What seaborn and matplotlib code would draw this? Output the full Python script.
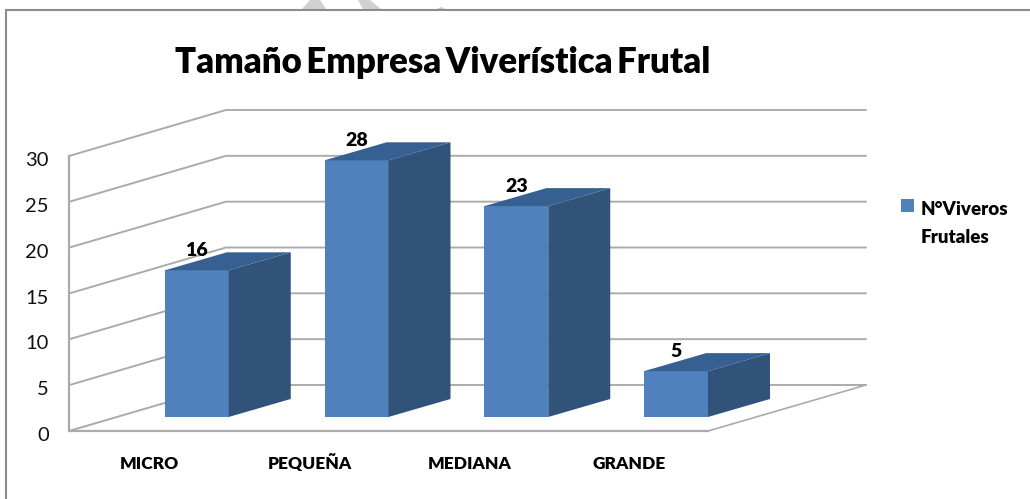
import matplotlib
matplotlib.use('Agg')
import matplotlib.pyplot as plt
import pandas as pd
import seaborn as sns
from matplotlib.lines import Line2D
from matplotlib.patches import Polygon, Rectangle
from matplotlib.transforms import ScaledTranslation

# data
categorias = ['MICRO', 'PEQUEÑA', 'MEDIANA', 'GRANDE']
viveros = [16, 28, 23, 5]
ticks_y = [0, 5, 10, 15, 20, 25, 30]
titulo = 'Tamaño\u2009Empresa\u2009Viverística\u2009Frutal'

df = pd.DataFrame({'tamano': categorias, 'viveros': viveros})

W, H = 1030, 499
azul = '#4F81BD'
azul_top = '#376092'
azul_lado = '#325379'
gris = '#ABABAB'

sns.set_theme(style='white')
plt.rcParams['font.family'] = ['Lato', 'DejaVu Sans']

fig = plt.figure(figsize=(W / 100, H / 100), dpi=100)
# axes = front plane of the 3d box, 69..708 px wide, 156..431 px high
ax = fig.add_axes([69 / W, 1 - 431 / H, (708 - 69) / W, 275 / H])

# bars float a bit above the front edge of the floor
base = 1.53
sns.barplot(data=df, x='tamano', y='viveros', color=azul, saturation=1, width=0.4,
            bottom=base, ax=ax, zorder=3, edgecolor='none', linewidth=0)
ax.set_xlim(-0.8, 3.2)
ax.set_ylim(0, 30)

px_x = 4 / (708 - 69)
px_y = 30 / 275
prof_x = 157 * px_x
prof_y = 46 * px_y
fin_x = -0.8 + (866 - 69) * px_x

# left wall, back wall grid and floor
for t in ticks_y:
    ax.plot([-0.8, -0.8 + prof_x, fin_x], [t, t + prof_y, t + prof_y], color=gris, lw=1.4,
            clip_on=False, zorder=1, solid_joinstyle='miter')
ax.plot([3.2, fin_x], [0, prof_y], color=gris, lw=1.2, clip_on=False, zorder=1)

# side and top faces of the bars
lado_x = 62 * px_x
lado_y = 18 * px_y
for bar, v in zip(ax.patches, viveros):
    x0 = bar.get_x()
    x1 = x0 + bar.get_width()
    y0 = bar.get_y()
    y1 = y0 + bar.get_height()
    ax.add_patch(Polygon([(x1, y0), (x1 + lado_x, y0 + lado_y), (x1 + lado_x, y1 + lado_y), (x1, y1)],
                         fc=azul_lado, ec='none', clip_on=False, zorder=3))
    ax.add_patch(Polygon([(x0, y1), (x0 + lado_x, y1 + lado_y), (x1 + lado_x, y1 + lado_y), (x1, y1)],
                         fc=azul_top, ec='none', clip_on=False, zorder=3))
    ax.text(x0 + 32 * px_x, y1 + lado_y - 0.7, str(v), ha='center', va='bottom',
            fontsize=14, fontweight='heavy', color='black', zorder=4)

ax.set_xlabel('')
ax.set_ylabel('')
ax.set_yticks(ticks_y)
ax.tick_params(axis='y', labelsize=14.5, colors='#111111', length=0, pad=14.5)
ax.tick_params(axis='x', labelsize=12.5, colors='black', length=0, pad=27.5)
# labels sit to the left of the bars and slightly under the gridlines
mover_x = ScaledTranslation(-47 / 100, 0, fig.dpi_scale_trans)
mover_y = ScaledTranslation(0, -3 / 100, fig.dpi_scale_trans)
for lab in ax.get_xticklabels():
    lab.set_fontweight('heavy')
    lab.set_va('baseline')
    lab.set_transform(lab.get_transform() + mover_x)
for lab in ax.get_yticklabels():
    lab.set_transform(lab.get_transform() + mover_y)
for s in ['top', 'right']:
    ax.spines[s].set_visible(False)
for s in ['left', 'bottom']:
    ax.spines[s].set_color(gris)
    ax.spines[s].set_linewidth(1.6)

# chart frame, only top and left edges are in the picture
borde = '#8C8C8C'
fig.add_artist(Line2D([6 / W, 6 / W, 1], [0, 1 - 10 / H, 1 - 10 / H], color=borde, lw=1.5,
                      solid_joinstyle='miter'))

# pieces of the watermark above the frame
for trozo in [[(302, 9), (310, 0), (320, 0), (326, 9)],
              [(358, 0), (370, 0), (381, 9), (363, 9)],
              [(437, 9), (441, 7), (446, 9)]]:
    fig.add_artist(Polygon([(x / W, 1 - y / H) for x, y in trozo], transform=fig.transFigure,
                           fc='#D0D0D0', ec='none'))

fig.text(443 / W, 1 - 73 / H, titulo, ha='center', va='baseline', fontsize=25, fontweight='heavy', color='black')

# legend
fig.add_artist(Rectangle((901 / W, 1 - 212 / H), 13 / W, 13 / H, transform=fig.transFigure, fc=azul, ec='none'))
fig.text(921 / W, 1 - 215 / H, 'N°Viveros', ha='left', va='baseline', fontsize=13.5, fontweight='heavy', color='black')
fig.text(921 / W, 1 - 243 / H, 'Frutales', ha='left', va='baseline', fontsize=13.5, fontweight='heavy', color='black')

fig.savefig('out.png', dpi=100)
